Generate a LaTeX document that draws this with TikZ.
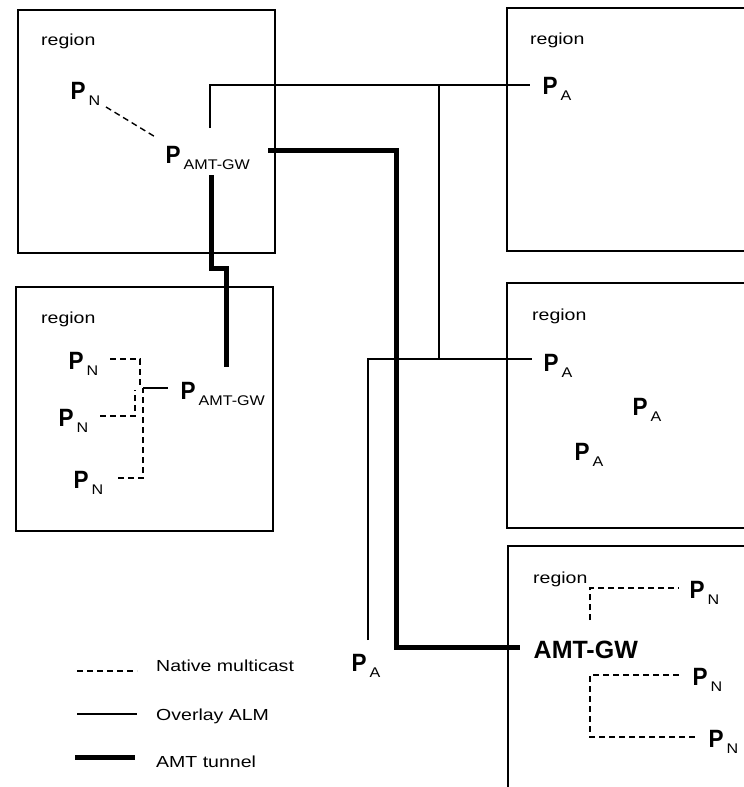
\documentclass[tikz,border=0pt]{standalone}
\usepackage{fontspec}
\setmainfont{Liberation Sans}
\usepackage{graphicx}
\newcommand\lbltxt[1]{{\fontsize{16}{18}\selectfont\scalebox{1.22}[1]{#1}}}
\newcommand\pname[1]{{\fontsize{25}{28}\selectfont\scalebox{0.9}[1]{\bfseries P}}\hspace{3pt}\raisebox{-6pt}{\fontsize{14}{16}\selectfont\scalebox{1.15}[1]{#1}}}
\tikzset{
  regionbox/.style={draw, line width=1.4pt},
  overlay/.style={line width=1.3pt},
  native/.style={line width=1.4pt, dash pattern=on 6pt off 4pt},
  tunnel/.style={line width=5pt, line join=miter},
  txt/.style={inner sep=0pt, anchor=base west}
}
\begin{document}
\begin{tikzpicture}[x=1pt,y=-1pt]
\useasboundingbox (0,0) rectangle (744,787);
\clip (0,0) rectangle (744,787);
\fill[white] (0,0) rectangle (744,787);

% region boxes
\draw[regionbox] (18,10) rectangle (275,253);
\draw[regionbox] (507,8) rectangle (760,251);
\draw[regionbox] (16,287) rectangle (273,531);
\draw[regionbox] (507,283) rectangle (760,528);
\draw[regionbox] (508,546) rectangle (760,800);

% region labels
\node[txt] (r1) at (41,45) {\lbltxt{region}};
\node[txt] (r2) at (530,44) {\lbltxt{region}};
\node[txt] (r3) at (41,323) {\lbltxt{region}};
\node[txt] (r4) at (532,320) {\lbltxt{region}};
\node[txt] (r5) at (533,583) {\lbltxt{region}};

% peers
\node[txt] (pna) at (70.5,99) {\pname{N}};
\node[txt] (pgwa) at (165.5,163) {\pname{AMT-GW}};
\node[txt] (pa1) at (542.5,94) {\pname{A}};
\node[txt] (pnb) at (68.5,369) {\pname{N}};
\node[txt] (pnc) at (58.5,426) {\pname{N}};
\node[txt] (pnd) at (73.5,488) {\pname{N}};
\node[txt] (pgwb) at (180.5,399) {\pname{AMT-GW}};
\node[txt] (pa2) at (543.5,371) {\pname{A}};
\node[txt] (pa3) at (632.5,415) {\pname{A}};
\node[txt] (pa4) at (574.5,460) {\pname{A}};
\node[txt] (pa5) at (351.5,671) {\pname{A}};
\node[txt] (gw) at (533.5,658) {\fontsize{25}{28}\selectfont\bfseries AMT-GW};
\node[txt] (pne) at (689.5,598) {\pname{N}};
\node[txt] (pnf) at (692.5,685) {\pname{N}};
\node[txt] (png) at (708.5,747) {\pname{N}};

% coordinates for connector ends
\coordinate (pna-e) at (106,107);
\coordinate (pgwa-nw) at (157,138);
\coordinate (pgwa-n) at (210,128);
\coordinate (pgwa-e) at (268,150);
\coordinate (pgwa-s) at (211,175);
\coordinate (pa1-w) at (530,85);
\coordinate (j1) at (439,85);
\coordinate (pa2-w) at (532,359);
\coordinate (j2) at (439,359);
\coordinate (pa5-n) at (368,640);
\coordinate (gw-w) at (520,647);
\coordinate (pgwb-n) at (226,367);
\coordinate (pgwb-w) at (168,388);
\coordinate (jb) at (143,388);
\coordinate (pnb-e) at (110,359);
\coordinate (pnc-e) at (100,416);
\coordinate (pnd-e) at (118,478);
\coordinate (gw-n) at (590,620);
\coordinate (gw-s) at (590,675);
\coordinate (pne-w) at (679,588);
\coordinate (pnf-w) at (679,675);
\coordinate (png-w) at (695,737);

% native multicast
\draw[native] (pna-e) -- (pgwa-nw);
\draw[native] (pnb-e) -- (140,359) -- (140,388);
\draw[native] (pnc-e) -- (135,416) -- (135,390);
\draw[native] (pnd-e) -- (143,478) -- (jb);
\draw[native] (gw-n) -- (590,588) -- (pne-w);
\draw[native] (pnf-w) -- (gw-s) -- (590,737) -- (png-w);

% overlay ALM
\draw[overlay] (pgwa-n) -- (210,85) -- (pa1-w);
\draw[overlay] (j1) -- (j2);
\draw[overlay] (pa5-n) -- (368,359) -- (pa2-w);
\draw[overlay] (jb) -- (pgwb-w);

% AMT tunnels
\draw[tunnel] (pgwa-e) -- (396,150) -- (396,647) -- (gw-w);
\draw[tunnel] (pgwa-s) -- (211,268) -- (226,268) -- (pgwb-n);

% legend
\coordinate (l1a) at (77,671); \coordinate (l1b) at (137,671);
\coordinate (l2a) at (77,714); \coordinate (l2b) at (137,714);
\coordinate (l3a) at (75,757); \coordinate (l3b) at (135,757);
\draw[native] (l1a) -- (l1b);
\draw[overlay] (l2a) -- (l2b);
\draw[tunnel] (l3a) -- (l3b);
\node[txt] (t1) at (156,671) {\lbltxt{Native multicast}};
\node[txt] (t2) at (156,720) {\lbltxt{Overlay ALM}};
\node[txt] (t3) at (156,767) {\lbltxt{AMT tunnel}};
\end{tikzpicture}
\end{document}
